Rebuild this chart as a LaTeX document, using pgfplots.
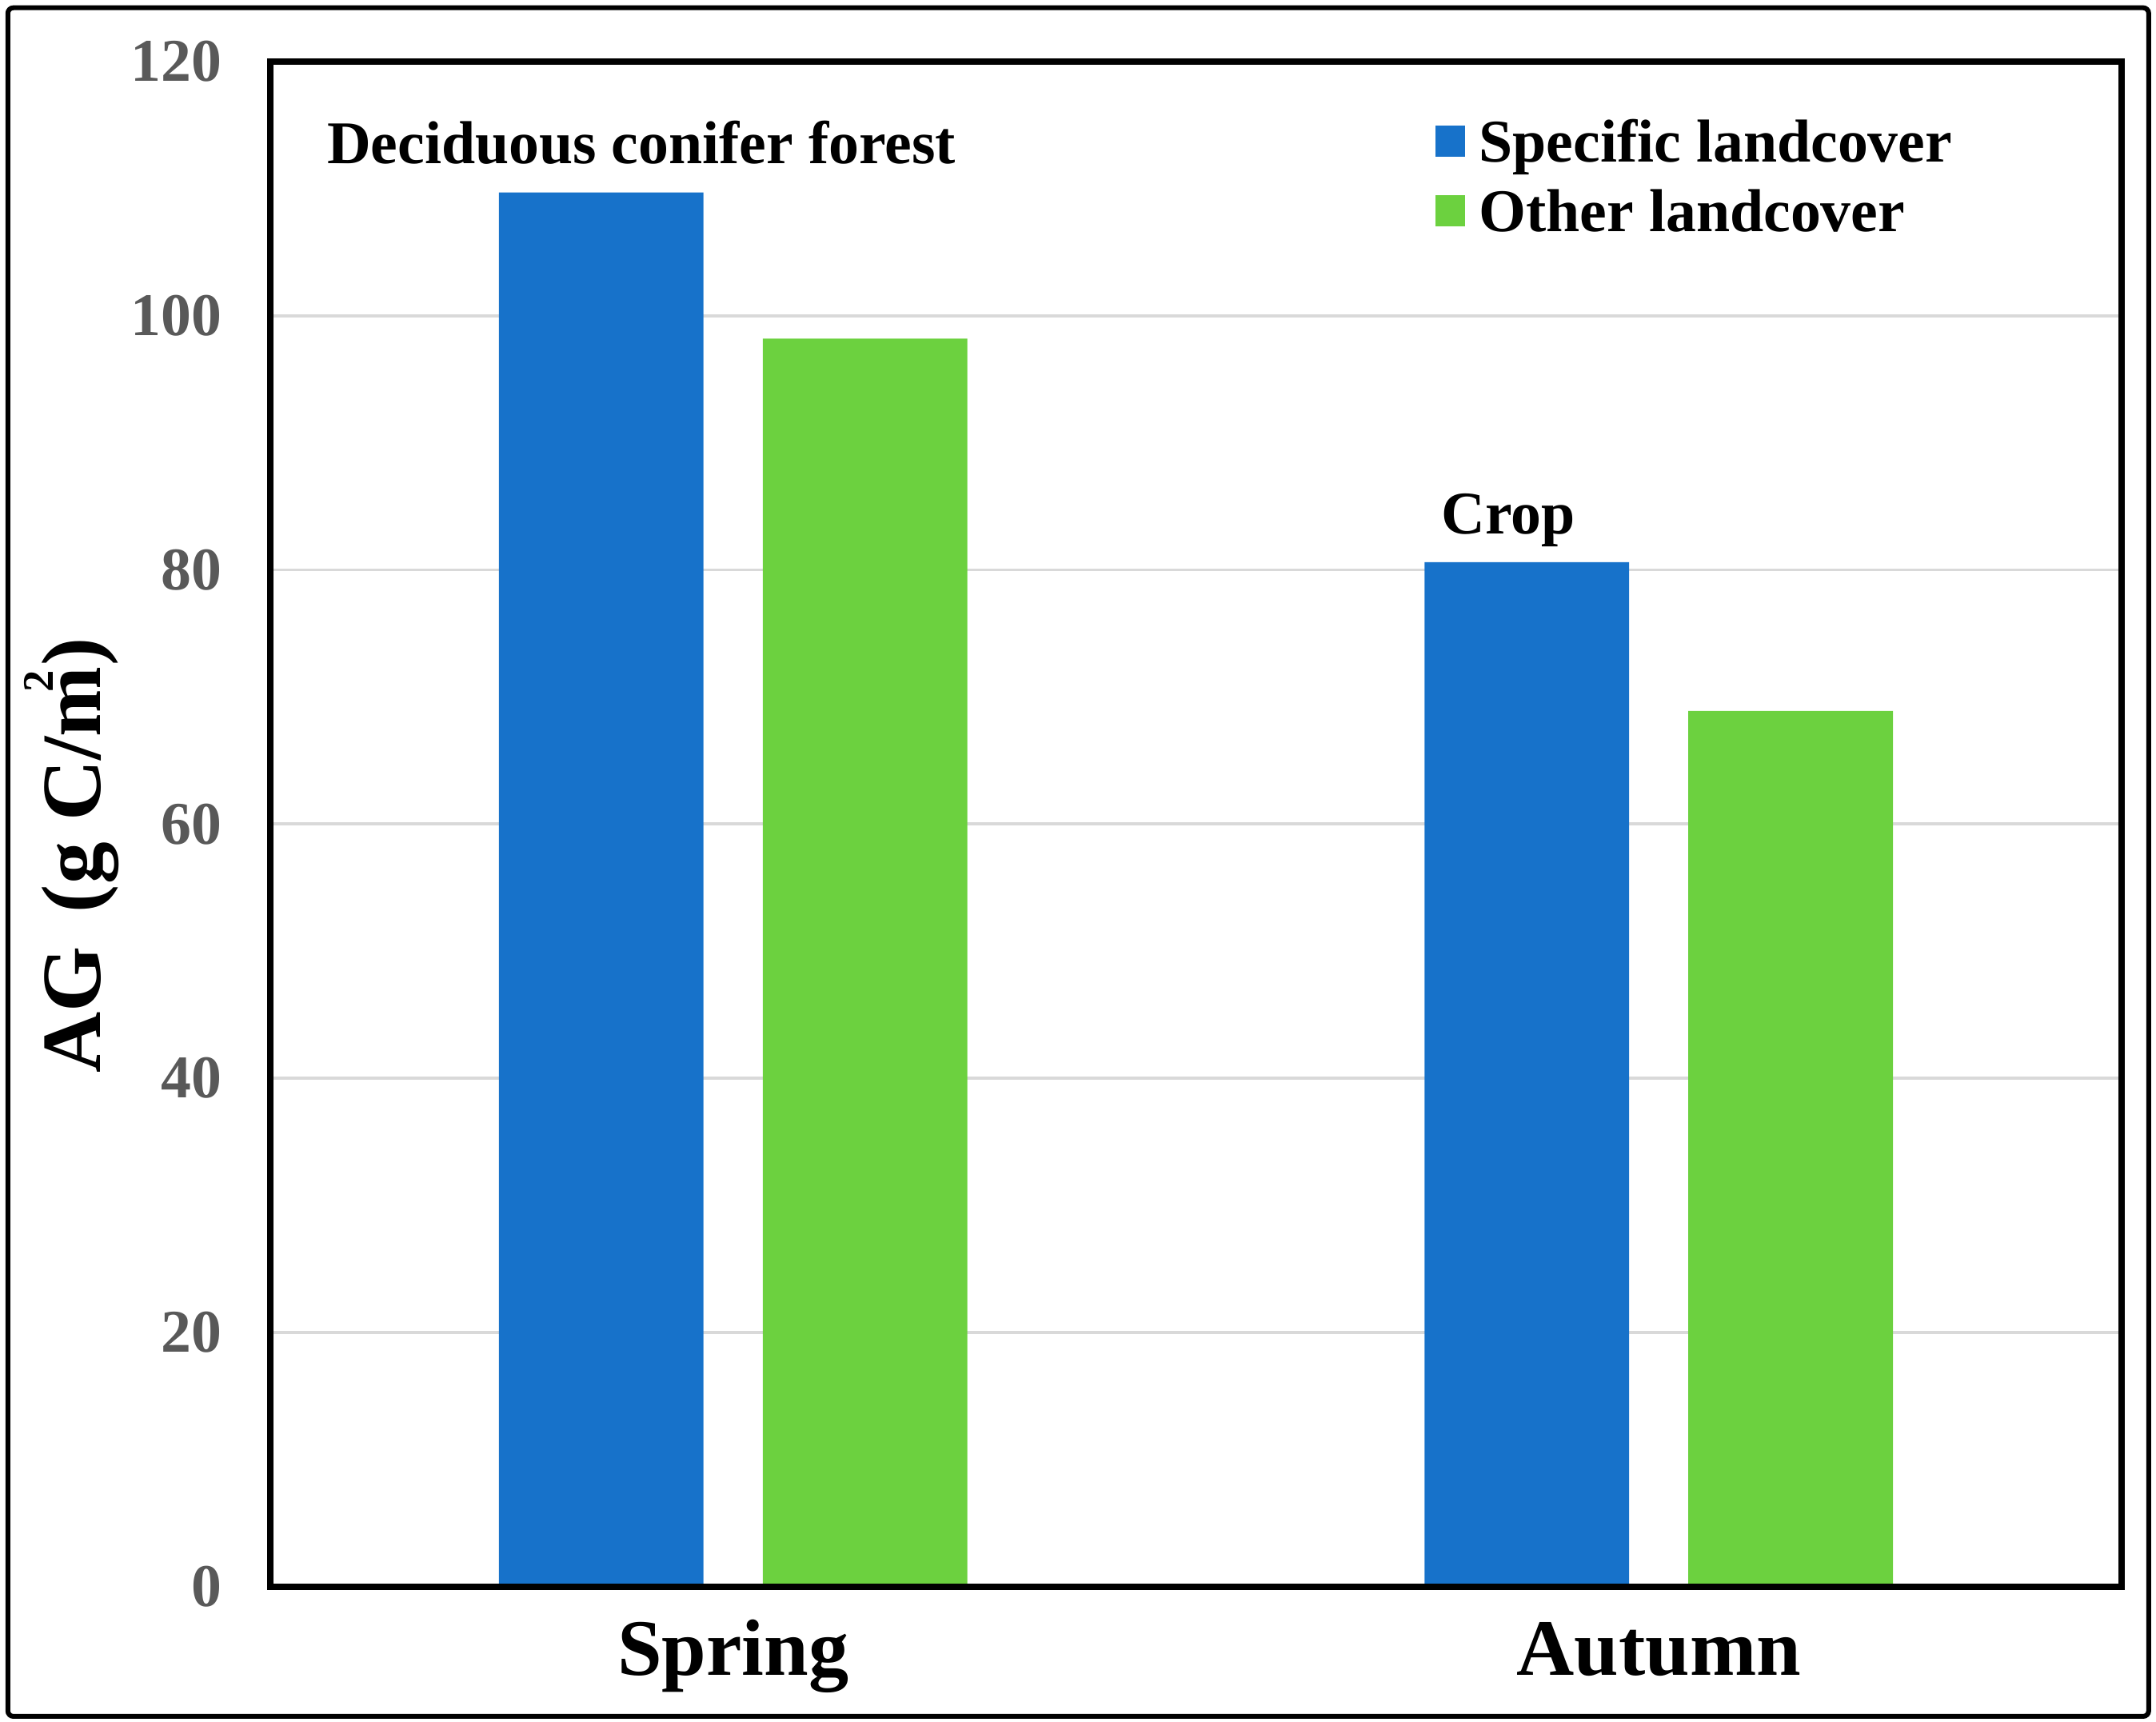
\documentclass[border=0pt]{standalone}
\usepackage{fontspec}
\setmainfont{Liberation Serif}
\usepackage{pgfplots}
\pgfplotsset{compat=1.18}
\definecolor{barblue}{HTML}{1772CA}
\definecolor{bargreen}{HTML}{6CD13F}
\definecolor{tickgray}{HTML}{595959}
\definecolor{gridgray}{HTML}{D9D9D9}
\begin{document}
\begin{tikzpicture}
\useasboundingbox (0,0) rectangle (15.63cm,12.4765cm);
\draw[line width=0.35mm, rounded corners=0.4mm] (0.057cm,0.035cm) rectangle (15.577cm,12.42cm);
\begin{axis}[
  at={(1.96cm,0.976cm)}, anchor=south west,
  scale only axis, width=13.42cm, height=11.054cm,
  xmin=-0.5, xmax=1.5, ymin=0, ymax=120,
  axis on top,
  axis line style={line width=1.3pt, black},
  major tick length=0pt,
  xtick={0,1}, xticklabels={Spring,Autumn},
  ytick={0,20,...,120},
  /pgf/number format/assume math mode=true,
  yticklabel style={font=\fontsize{12.5}{14}\selectfont\bfseries, text=tickgray, anchor=east, xshift=-2.3mm},
  xticklabel style={font=\fontsize{16.5}{18}\selectfont\bfseries, anchor=base, yshift=-6.4mm},
  ylabel={AG\hspace{0.4em}(g C/m\kern-0.3em\raisebox{0.56em}{\fontsize{9}{9}\selectfont 2}\kern0.05em)},
  ylabel style={font=\fontsize{17.4}{20}\selectfont\bfseries, at={(axis description cs:-0.092,0.4795)}, anchor=base, rotate=0},
  legend style={at={(axis description cs:0.629,0.9665)}, anchor=north west, draw=none, fill=none,
    font=\fontsize{12.5}{14}\selectfont\bfseries, inner sep=0pt, column sep=0.55mm,
    nodes={inner sep=0.5mm, text height=3mm, text depth=1mm}, row sep=0.05mm},
  legend cell align=left,
  legend image code/.code={\fill[#1] (0mm,-0.6mm) rectangle (2.1mm,1.65mm);},
]
\pgfplotsinvokeforeach{20,40,60,80,100}{
  \draw[gridgray, line width=0.6pt] (axis cs:-0.5,#1) -- (axis cs:1.5,#1);
}
\addplot[ybar, bar width=0.221, bar shift=-0.1425, fill=barblue, draw=none] coordinates {(0,109.7) (1,80.6)};
\addplot[ybar, bar width=0.221, bar shift=0.1425, fill=bargreen, draw=none] coordinates {(0,98.2) (1,68.9)};
\legend{Specific landcover, Other landcover}
\node[anchor=base west, inner sep=0pt, font=\fontsize{12.5}{14}\selectfont\bfseries] at (axis cs:-0.4396,112.0) {Deciduous conifer forest};
\node[anchor=base west, inner sep=0pt, font=\fontsize{12.5}{14}\selectfont\bfseries] at (axis cs:0.7645,82.86) {Crop};
\end{axis}
\end{tikzpicture}
\end{document}
